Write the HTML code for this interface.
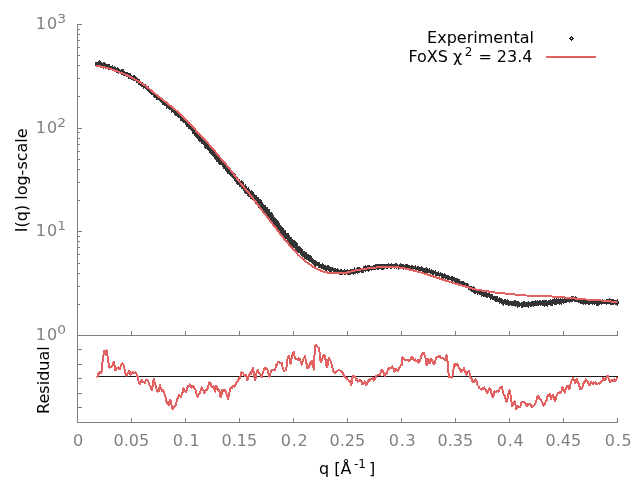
<!DOCTYPE html>
<html><head><meta charset="utf-8"><style>
html,body{margin:0;padding:0;background:#fff;}
svg{display:block;}
text{font-family:'DejaVu Sans',sans-serif;font-size:16px;}
</style></head><body>
<svg width="640" height="480" viewBox="0 0 640 480">
<rect width="640" height="480" fill="#fff"/>
<g fill="#808080" shape-rendering="crispEdges">
<rect x="77" y="24" width="1" height="399"/>
<rect x="77" y="335" width="541" height="1"/>
<rect x="77" y="422" width="541" height="1"/>
<rect x="77" y="335" width="5" height="1"/>
<rect x="77" y="231" width="5" height="1"/>
<rect x="77" y="128" width="5" height="1"/>
<rect x="77" y="24" width="5" height="1"/>
<rect x="77" y="304" width="3" height="1"/>
<rect x="77" y="286" width="3" height="1"/>
<rect x="77" y="273" width="3" height="1"/>
<rect x="77" y="263" width="3" height="1"/>
<rect x="77" y="254" width="3" height="1"/>
<rect x="77" y="247" width="3" height="1"/>
<rect x="77" y="241" width="3" height="1"/>
<rect x="77" y="236" width="3" height="1"/>
<rect x="77" y="200" width="3" height="1"/>
<rect x="77" y="182" width="3" height="1"/>
<rect x="77" y="169" width="3" height="1"/>
<rect x="77" y="159" width="3" height="1"/>
<rect x="77" y="151" width="3" height="1"/>
<rect x="77" y="144" width="3" height="1"/>
<rect x="77" y="138" width="3" height="1"/>
<rect x="77" y="132" width="3" height="1"/>
<rect x="77" y="96" width="3" height="1"/>
<rect x="77" y="78" width="3" height="1"/>
<rect x="77" y="65" width="3" height="1"/>
<rect x="77" y="55" width="3" height="1"/>
<rect x="77" y="47" width="3" height="1"/>
<rect x="77" y="40" width="3" height="1"/>
<rect x="77" y="34" width="3" height="1"/>
<rect x="77" y="29" width="3" height="1"/>
<rect x="77" y="331" width="1" height="5"/>
<rect x="77" y="418" width="1" height="5"/>
<rect x="131" y="331" width="1" height="5"/>
<rect x="131" y="418" width="1" height="5"/>
<rect x="185" y="331" width="1" height="5"/>
<rect x="185" y="418" width="1" height="5"/>
<rect x="239" y="331" width="1" height="5"/>
<rect x="239" y="418" width="1" height="5"/>
<rect x="293" y="331" width="1" height="5"/>
<rect x="293" y="418" width="1" height="5"/>
<rect x="347" y="331" width="1" height="5"/>
<rect x="347" y="418" width="1" height="5"/>
<rect x="401" y="331" width="1" height="5"/>
<rect x="401" y="418" width="1" height="5"/>
<rect x="455" y="331" width="1" height="5"/>
<rect x="455" y="418" width="1" height="5"/>
<rect x="509" y="331" width="1" height="5"/>
<rect x="509" y="418" width="1" height="5"/>
<rect x="563" y="331" width="1" height="5"/>
<rect x="563" y="418" width="1" height="5"/>
<rect x="617" y="331" width="1" height="5"/>
<rect x="617" y="418" width="1" height="5"/>
<rect x="77" y="349" width="5" height="1"/>
<rect x="77" y="364" width="5" height="1"/>
<rect x="77" y="378" width="5" height="1"/>
<rect x="77" y="393" width="5" height="1"/>
<rect x="77" y="407" width="5" height="1"/>
</g>
<g fill="#808080">
<text x="78" y="445.5" text-anchor="middle">0</text>
<text x="131.3" y="445.5" text-anchor="middle">0.05</text>
<text x="186.3" y="445.5" text-anchor="middle" textLength="27" lengthAdjust="spacing">0.1</text>
<text x="239.3" y="445.5" text-anchor="middle">0.15</text>
<text x="294.3" y="445.5" text-anchor="middle" textLength="27" lengthAdjust="spacing">0.2</text>
<text x="347.3" y="445.5" text-anchor="middle">0.25</text>
<text x="402.3" y="445.5" text-anchor="middle" textLength="27" lengthAdjust="spacing">0.3</text>
<text x="455.3" y="445.5" text-anchor="middle">0.35</text>
<text x="510.3" y="445.5" text-anchor="middle" textLength="27" lengthAdjust="spacing">0.4</text>
<text x="563.3" y="445.5" text-anchor="middle">0.45</text>
<text x="618.3" y="445.5" text-anchor="middle" textLength="27" lengthAdjust="spacing">0.5</text>

<text x="35.7" y="28.9" textLength="21.4" lengthAdjust="spacing">10</text><text x="57.2" y="22.7" style="font-size:12px" textLength="8.8" lengthAdjust="spacingAndGlyphs">3</text>
<text x="35.7" y="132.8" textLength="21.4" lengthAdjust="spacing">10</text><text x="57.2" y="126.7" style="font-size:12px" textLength="8.8" lengthAdjust="spacingAndGlyphs">2</text>
<text x="35.7" y="236.2" textLength="21.4" lengthAdjust="spacing">10</text><text x="57.2" y="229.9" style="font-size:12px" textLength="8.8" lengthAdjust="spacingAndGlyphs">1</text>
<text x="35.7" y="339.9" textLength="21.4" lengthAdjust="spacing">10</text><text x="57.2" y="334" style="font-size:12px" textLength="8.8" lengthAdjust="spacingAndGlyphs">0</text>
</g>
<g fill="#000">
<text transform="translate(27,180.3) rotate(-90)" text-anchor="middle">I(q) log-scale</text>
<text transform="translate(49,380.1) rotate(-90)" text-anchor="middle">Residual</text>
<text x="319" y="474">q [Å</text><text x="354" y="467.5" style="font-size:12px">-1</text><text x="369" y="474">]</text>
<text x="427" y="43" textLength="107" lengthAdjust="spacing">Experimental</text>
<text x="408.4" y="62">FoXS χ</text><text x="464.7" y="56" style="font-size:12px">2</text><text x="532.5" y="62" text-anchor="end">= 23.4</text>
</g>
<path d="M571,36h1v1h1v1h1v1h-1v1h-1v1h-1v-1h-1v-1h-1v-1h1v-1h1z M571,38v1h1v-1z" fill="#1e1e1e" fill-rule="evenodd" shape-rendering="crispEdges"/>
<rect x="546" y="56" width="50" height="2" fill="#e26261"/>
<path d="M95.2,64.4 L95.5,61.8 L96.5,62.4 L97.5,61.7 L98.5,60.8 L99.5,60.1 L100.5,60.9 L101.5,61.7 L102.5,62.5 L103.5,62.2 L104.5,62.1 L105.5,63 L106.5,64 L107.5,63.7 L108.5,64.2 L109.5,64.3 L110.5,65.5 L111.5,65.7 L112.5,65.2 L113.5,66.7 L114.5,66.4 L115.5,67 L116.5,68 L117.5,67.3 L118.5,68 L119.5,68.7 L120.5,69.9 L121.5,69.3 L122.5,69.2 L123.5,69.4 L124.5,71.1 L125.5,71.8 L126.5,72 L127.5,72.3 L128.5,73.3 L129.5,73.2 L130.5,73 L131.5,74.6 L132.5,75.5 L133.5,75.3 L134.5,75.3 L135.5,76.2 L136.5,76.7 L137.5,77.6 L138.5,78.8 L139.5,79 L140.5,80.6 L141.5,81.9 L142.5,81.7 L143.5,82.6 L144.5,84.6 L145.5,84 L146.5,84.9 L147.5,86.3 L148.5,86.1 L149.5,87.7 L150.5,89.6 L151.5,89.7 L152.5,91 L153.5,92.3 L154.5,93.2 L155.5,93.2 L156.5,93.6 L157.5,94.3 L158.5,95.4 L159.5,96.5 L160.5,96.7 L161.5,97.7 L162.5,98.4 L163.5,100.3 L164.5,100.4 L165.5,101.4 L166.5,103.1 L167.5,103.3 L168.5,103.4 L169.5,104.7 L170.5,106.4 L171.5,105.8 L172.5,107.6 L173.5,108.4 L174.5,109.2 L175.5,110.7 L176.5,110.4 L177.5,111.1 L178.5,112.6 L179.5,113.1 L180.5,114.9 L181.5,115.8 L182.5,116.7 L183.5,116.6 L184.5,117.8 L185.5,118.2 L186.5,119.7 L187.5,122 L188.5,123 L189.5,124.2 L190.5,124 L191.5,125.1 L192.5,127.1 L193.5,128.6 L194.5,129.2 L195.5,129 L196.5,131.8 L197.5,132.8 L198.5,133 L199.5,134.4 L200.5,136.6 L201.5,136.7 L202.5,138.3 L203.5,138.3 L204.5,140.9 L205.5,140.7 L206.5,143.2 L207.5,143.2 L208.5,143.9 L209.5,146.4 L210.5,146.7 L211.5,147.7 L212.5,149.5 L213.5,149.6 L214.5,150.7 L215.5,152 L216.5,153 L217.5,154.5 L218.5,156.1 L219.5,156.9 L220.5,158.2 L221.5,159.4 L222.5,160.3 L223.5,160.5 L224.5,161.8 L225.5,163.8 L226.5,164.1 L227.5,165.6 L228.5,166.4 L229.5,167.7 L230.5,169.5 L231.5,170.1 L232.5,171.8 L233.5,172.3 L234.5,173.3 L235.5,174.3 L236.5,175.5 L237.5,177 L238.5,178.6 L239.5,179 L240.5,180.7 L241.5,180.4 L242.5,181.3 L243.5,182.3 L244.5,184.6 L245.5,184.4 L246.5,186.3 L247.5,187.6 L248.5,187.3 L249.5,188.6 L250.5,190.6 L251.5,190.1 L252.5,191.4 L253.5,191.7 L254.5,193.9 L255.5,194.8 L256.5,194.9 L257.5,197 L258.5,197.1 L259.5,199.4 L260.5,199.2 L261.5,200.2 L262.5,202 L263.5,203.5 L264.5,205.1 L265.5,204.9 L266.5,206.7 L267.5,206.9 L268.5,209 L269.5,209.1 L270.5,211.5 L271.5,211.8 L272.5,213.2 L273.5,215.2 L274.5,216.7 L275.5,217.5 L276.5,219.2 L277.5,219.7 L278.5,220.9 L279.5,222.7 L280.5,224.8 L281.5,225.6 L282.5,226.6 L283.5,227.7 L284.5,229.8 L285.5,230 L286.5,232.6 L287.5,233 L288.5,233.5 L289.5,234.8 L290.5,236.7 L291.5,237.4 L292.5,239.3 L293.5,239.8 L294.5,240.3 L295.5,241.3 L296.5,242.3 L297.5,243.2 L298.5,245.9 L299.5,245.9 L300.5,246.9 L301.5,247.7 L302.5,248.8 L303.5,251 L304.5,250.7 L305.5,251.7 L306.5,252.1 L307.5,253.8 L308.5,254.1 L309.5,254.5 L310.5,255.5 L311.5,256.2 L312.5,257.5 L313.5,258.8 L314.5,259.8 L315.5,260.3 L316.5,260.5 L317.5,262.2 L318.5,262.3 L319.5,261.6 L320.5,263.6 L321.5,263.7 L322.5,263.1 L323.5,264.2 L324.5,265.1 L325.5,265.1 L326.5,265.6 L327.5,265 L328.5,265.2 L329.5,265.5 L330.5,266.6 L331.5,267 L332.5,267 L333.5,267.9 L334.5,267.6 L335.5,268.2 L336.5,268.7 L337.5,267.8 L338.5,269.3 L339.5,269.6 L340.5,269.3 L341.5,269.4 L342.5,270 L343.5,269.9 L344.5,269 L345.5,270.1 L346.5,269.7 L347.5,268.7 L348.5,269.6 L349.5,269.5 L350.5,269 L351.5,268.7 L352.5,269.2 L353.5,269.1 L354.5,267.3 L355.5,268.5 L356.5,267.8 L357.5,267.2 L358.5,267.1 L359.5,266.8 L360.5,268.2 L361.5,267.8 L362.5,267.7 L363.5,266.3 L364.5,266.5 L365.5,265.4 L366.5,266 L367.5,265.2 L368.5,265.4 L369.5,264.6 L370.5,265.9 L371.5,265.9 L372.5,265.7 L373.5,264.6 L374.5,265.5 L375.5,264.2 L376.5,263.9 L377.5,263.5 L378.5,263.7 L379.5,263.5 L380.5,263.9 L381.5,263.5 L382.5,264.4 L383.5,263.9 L384.5,264.4 L385.5,263.9 L386.5,263.9 L387.5,264 L388.5,263.1 L389.5,264.3 L390.5,263.5 L391.5,263.2 L392.5,264.4 L393.5,263.8 L394.5,263.7 L395.5,263 L396.5,263.1 L397.5,263.6 L398.5,264.5 L399.5,263.7 L400.5,263.3 L401.5,263.6 L402.5,263.5 L403.5,264.1 L404.5,264.5 L405.5,264 L406.5,264 L407.5,263.6 L408.5,265.4 L409.5,264.7 L410.5,265.5 L411.5,264.6 L412.5,265 L413.5,266.1 L414.5,266.1 L415.5,264.8 L416.5,266.5 L417.5,266.2 L418.5,266 L419.5,267 L420.5,267.5 L421.5,266.1 L422.5,267.1 L423.5,268.1 L424.5,267.7 L425.5,267.7 L426.5,267.2 L427.5,267.8 L428.5,268.9 L429.5,268.2 L430.5,269.5 L431.5,268.8 L432.5,269.9 L433.5,269.9 L434.5,270.6 L435.5,270.4 L436.5,271.9 L437.5,272.1 L438.5,271.3 L439.5,272.9 L440.5,272.1 L441.5,272.8 L442.5,273 L443.5,273.8 L444.5,273.3 L445.5,273.9 L446.5,274.8 L447.5,275.4 L448.5,275.2 L449.5,276.4 L450.5,276.5 L451.5,275.8 L452.5,276.3 L453.5,277.1 L454.5,277 L455.5,278.2 L456.5,277.7 L457.5,278.2 L458.5,278.5 L459.5,278.7 L460.5,280.6 L461.5,280.7 L462.5,281.4 L463.5,280.6 L464.5,282.2 L465.5,282.6 L466.5,282.7 L467.5,283 L468.5,283.8 L469.5,285.6 L470.5,286.2 L471.5,285.7 L472.5,287.1 L473.5,286.3 L474.5,287.4 L475.5,287.6 L476.5,289.4 L477.5,288.9 L478.5,289.9 L479.5,289 L480.5,290.9 L481.5,291 L482.5,290.6 L483.5,292 L484.5,291 L485.5,291.4 L486.5,291.1 L487.5,293 L488.5,293.3 L489.5,292.4 L490.5,294.1 L491.5,293.5 L492.5,294.1 L493.5,295.5 L494.5,295.8 L495.5,296.3 L496.5,296.4 L497.5,296.4 L498.5,297.7 L499.5,297.2 L500.5,297.8 L501.5,297.9 L502.5,298.7 L503.5,299.9 L504.5,298.9 L505.5,298.8 L506.5,300 L507.5,299.3 L508.5,300.2 L509.5,300.5 L510.5,300.5 L511.5,301 L512.5,300.7 L513.5,301.1 L514.5,300.4 L515.5,300.4 L516.5,301.3 L517.5,301.1 L518.5,301.4 L519.5,302.1 L520.5,302.5 L521.5,301.6 L522.5,302.2 L523.5,300.8 L524.5,300.9 L525.5,302.4 L526.5,302.3 L527.5,302.2 L528.5,301.1 L529.5,302.3 L530.5,301.6 L531.5,300.9 L532.5,300.7 L533.5,300.8 L534.5,301.4 L535.5,300.1 L536.5,301.2 L537.5,300.4 L538.5,301.1 L539.5,299.6 L540.5,300.2 L541.5,300.7 L542.5,299.9 L543.5,300.4 L544.5,300.3 L545.5,300.2 L546.5,300.2 L547.5,300.9 L548.5,299.9 L549.5,300.4 L550.5,298.9 L551.5,299.5 L552.5,299.4 L553.5,299.3 L554.5,298.4 L555.5,299.3 L556.5,298.2 L557.5,298.6 L558.5,298 L559.5,298.6 L560.5,297.7 L561.5,298.8 L562.5,297.6 L563.5,298.8 L564.5,297.9 L565.5,298.5 L566.5,298.3 L567.5,297.9 L568.5,297.7 L569.5,296.8 L570.5,297.4 L571.5,296.1 L572.5,296.4 L573.5,295.5 L574.5,296.7 L575.5,295.8 L576.5,297.4 L577.5,297.9 L578.5,297.8 L579.5,298.1 L580.5,298.1 L581.5,298.4 L582.5,298.8 L583.5,298.3 L584.5,299.3 L585.5,299.9 L586.5,299.4 L587.5,299.5 L588.5,298.9 L589.5,298.9 L590.5,299.7 L591.5,299.9 L592.5,300.1 L593.5,299.8 L594.5,299.8 L595.5,300.6 L596.5,300.4 L597.5,300.1 L598.5,299.1 L599.5,299.5 L600.5,300.2 L601.5,299.9 L602.5,298.5 L603.5,299.7 L604.5,299.9 L605.5,299.7 L606.5,299.1 L607.5,298.5 L608.5,299 L609.5,298.2 L610.5,298.5 L611.5,299.5 L612.5,298.7 L613.5,298.7 L614.5,299.8 L615.5,300.3 L616.5,299.8 L617.5,299 L619.6,302.3 L617.5,305.6 L616.5,305.4 L615.5,304.7 L614.5,304.3 L613.5,304.5 L612.5,304.9 L611.5,305 L610.5,305 L609.5,303.5 L608.5,303.7 L607.5,303.7 L606.5,304.9 L605.5,303.6 L604.5,303.9 L603.5,303.8 L602.5,304.2 L601.5,305.3 L600.5,304 L599.5,305.5 L598.5,305.7 L597.5,305.5 L596.5,305.9 L595.5,304.4 L594.5,304.8 L593.5,304.2 L592.5,305.5 L591.5,304.2 L590.5,304.1 L589.5,304.8 L588.5,304.7 L587.5,304.1 L586.5,304.2 L585.5,305.2 L584.5,304.2 L583.5,304.7 L582.5,304.1 L581.5,304.2 L580.5,303.7 L579.5,302.9 L578.5,303 L577.5,302 L576.5,301.5 L575.5,302.1 L574.5,302.4 L573.5,301.2 L572.5,301.6 L571.5,301.8 L570.5,301.6 L569.5,303 L568.5,302.1 L567.5,302.2 L566.5,303.2 L565.5,303 L564.5,302.6 L563.5,304.4 L562.5,303 L561.5,304.6 L560.5,303.9 L559.5,304.8 L558.5,303.8 L557.5,304.3 L556.5,304.7 L555.5,305.3 L554.5,304.8 L553.5,304.3 L552.5,305.7 L551.5,305.8 L550.5,306 L549.5,304.9 L548.5,305.1 L547.5,306.7 L546.5,305.8 L545.5,306.2 L544.5,307 L543.5,305.7 L542.5,306.4 L541.5,305.2 L540.5,306 L539.5,305.2 L538.5,306.1 L537.5,305.7 L536.5,305.8 L535.5,306.2 L534.5,306.1 L533.5,306.9 L532.5,306.3 L531.5,306.7 L530.5,307.2 L529.5,306.3 L528.5,307.5 L527.5,307 L526.5,306.8 L525.5,307.2 L524.5,306.5 L523.5,306.7 L522.5,307.9 L521.5,307.7 L520.5,306.4 L519.5,307.4 L518.5,306.5 L517.5,307.7 L516.5,306.4 L515.5,307.2 L514.5,305.9 L513.5,305.7 L512.5,305.8 L511.5,305.5 L510.5,305.1 L509.5,306.2 L508.5,305.8 L507.5,305.2 L506.5,305.1 L505.5,305 L504.5,304.1 L503.5,305.6 L502.5,305.4 L501.5,304.3 L500.5,303 L499.5,303.7 L498.5,302 L497.5,302 L496.5,301.5 L495.5,301.8 L494.5,301.2 L493.5,299.8 L492.5,299.8 L491.5,298.9 L490.5,299.6 L489.5,298.4 L488.5,297.3 L487.5,298.1 L486.5,298 L485.5,296.9 L484.5,297.4 L483.5,296.9 L482.5,296.1 L481.5,296.8 L480.5,295.3 L479.5,294.6 L478.5,294.2 L477.5,295.2 L476.5,293.4 L475.5,293.6 L474.5,294 L473.5,292.7 L472.5,292.1 L471.5,292.2 L470.5,290.6 L469.5,289.8 L468.5,289.5 L467.5,288.2 L466.5,288.1 L465.5,287.5 L464.5,286.2 L463.5,287.1 L462.5,285.3 L461.5,286.1 L460.5,285.4 L459.5,284.1 L458.5,283.1 L457.5,284.4 L456.5,282.9 L455.5,283.5 L454.5,282.2 L453.5,281.4 L452.5,282.3 L451.5,281.6 L450.5,280.2 L449.5,280 L448.5,279.5 L447.5,280.1 L446.5,278.8 L445.5,278.9 L444.5,277.8 L443.5,279.1 L442.5,277.5 L441.5,277.9 L440.5,276.4 L439.5,277.3 L438.5,276.1 L437.5,276.2 L436.5,276.2 L435.5,275.5 L434.5,274.4 L433.5,274.5 L432.5,274.8 L431.5,273.6 L430.5,274.4 L429.5,273.3 L428.5,273.1 L427.5,273.9 L426.5,273.3 L425.5,272.6 L424.5,272.8 L423.5,272.5 L422.5,272.2 L421.5,271 L420.5,271 L419.5,271.8 L418.5,271.8 L417.5,269.9 L416.5,270.5 L415.5,270.8 L414.5,269.4 L413.5,270.7 L412.5,269.8 L411.5,269.3 L410.5,269.1 L409.5,269.7 L408.5,268.6 L407.5,268.8 L406.5,268.8 L405.5,269.1 L404.5,268.8 L403.5,269.6 L402.5,268.5 L401.5,268.1 L400.5,268.1 L399.5,268.2 L398.5,269.7 L397.5,268.3 L396.5,269.5 L395.5,268.1 L394.5,268.6 L393.5,268.4 L392.5,268.3 L391.5,269.2 L390.5,268.5 L389.5,268.1 L388.5,267.9 L387.5,269 L386.5,268.7 L385.5,268 L384.5,268.9 L383.5,269.7 L382.5,269.5 L381.5,269.9 L380.5,268.6 L379.5,268.8 L378.5,270.2 L377.5,270.1 L376.5,268.8 L375.5,269.7 L374.5,270.1 L373.5,270 L372.5,270 L371.5,270.9 L370.5,270 L369.5,271.3 L368.5,271.7 L367.5,271 L366.5,271.1 L365.5,271.7 L364.5,271.1 L363.5,272.9 L362.5,272.8 L361.5,272.7 L360.5,272.2 L359.5,273 L358.5,273.3 L357.5,274 L356.5,272.9 L355.5,274.4 L354.5,273.6 L353.5,274.7 L352.5,273.6 L351.5,273.7 L350.5,274.6 L349.5,274.5 L348.5,275.3 L347.5,274.7 L346.5,274.3 L345.5,274.9 L344.5,274.7 L343.5,274.3 L342.5,275.2 L341.5,275.2 L340.5,274.5 L339.5,275.4 L338.5,273.7 L337.5,273.5 L336.5,273.1 L335.5,272.5 L334.5,273 L333.5,273 L332.5,271.4 L331.5,272.4 L330.5,272 L329.5,272 L328.5,270.9 L327.5,269.9 L326.5,270.8 L325.5,270.9 L324.5,270.4 L323.5,270.1 L322.5,269.1 L321.5,269.2 L320.5,268.4 L319.5,268.4 L318.5,267.6 L317.5,266.3 L316.5,266.1 L315.5,266.6 L314.5,265.5 L313.5,264.7 L312.5,263.6 L311.5,262.5 L310.5,262.5 L309.5,261.5 L308.5,261.2 L307.5,260.5 L306.5,259.5 L305.5,258.7 L304.5,259 L303.5,257.4 L302.5,257.3 L301.5,255.5 L300.5,254.6 L299.5,253.4 L298.5,253.4 L297.5,252.8 L296.5,250.5 L295.5,250.1 L294.5,248.2 L293.5,247.7 L292.5,247.2 L291.5,246.6 L290.5,245.9 L289.5,244 L288.5,243.4 L287.5,241 L286.5,239.1 L285.5,238.8 L284.5,237.9 L283.5,235.9 L282.5,234.8 L281.5,233.9 L280.5,232.9 L279.5,231.6 L278.5,230.2 L277.5,228.8 L276.5,227.6 L275.5,226.1 L274.5,226.3 L273.5,224 L272.5,223.7 L271.5,222.4 L270.5,220.9 L269.5,219.9 L268.5,217.7 L267.5,215.9 L266.5,216 L265.5,215.3 L264.5,213 L263.5,213.1 L262.5,210.9 L261.5,211.1 L260.5,208.9 L259.5,208.9 L258.5,207.8 L257.5,205.9 L256.5,204.5 L255.5,203.6 L254.5,201.8 L253.5,201.3 L252.5,200 L251.5,199 L250.5,198.8 L249.5,197.2 L248.5,197 L247.5,196 L246.5,193.5 L245.5,193.5 L244.5,192.7 L243.5,191.2 L242.5,189.3 L241.5,188.5 L240.5,186.8 L239.5,187.2 L238.5,184.8 L237.5,184.7 L236.5,183.6 L235.5,181.6 L234.5,180.6 L233.5,179.2 L232.5,178 L231.5,177.4 L230.5,175.9 L229.5,174.5 L228.5,174.3 L227.5,173.8 L226.5,171.9 L225.5,170.7 L224.5,169.4 L223.5,168.8 L222.5,166.7 L221.5,165.4 L220.5,165.4 L219.5,165 L218.5,163.9 L217.5,162 L216.5,161.6 L215.5,159.5 L214.5,158.6 L213.5,156.8 L212.5,155.5 L211.5,155.4 L210.5,154.4 L209.5,152.7 L208.5,150.5 L207.5,150.3 L206.5,149.4 L205.5,148.6 L204.5,147.5 L203.5,145.2 L202.5,144 L201.5,144.2 L200.5,142.1 L199.5,141.8 L198.5,140.7 L197.5,139 L196.5,138.4 L195.5,136.9 L194.5,135.6 L193.5,134 L192.5,133.7 L191.5,131.4 L190.5,130.3 L189.5,129.4 L188.5,129.3 L187.5,127.2 L186.5,126.5 L185.5,124.6 L184.5,123 L183.5,122.7 L182.5,122.1 L181.5,121.2 L180.5,120.6 L179.5,118.3 L178.5,118.4 L177.5,117.4 L176.5,115.8 L175.5,115.6 L174.5,115.2 L173.5,112.7 L172.5,112 L171.5,112.7 L170.5,110.4 L169.5,109.7 L168.5,108.6 L167.5,108.4 L166.5,108.5 L165.5,106.1 L164.5,105.7 L163.5,104.5 L162.5,105 L161.5,103.3 L160.5,102.1 L159.5,101.1 L158.5,100.5 L157.5,99.5 L156.5,99.7 L155.5,98.4 L154.5,98.2 L153.5,97.3 L152.5,95 L151.5,95.1 L150.5,94.3 L149.5,93.2 L148.5,92 L147.5,90.8 L146.5,90.3 L145.5,89 L144.5,88 L143.5,88.5 L142.5,86.8 L141.5,86.8 L140.5,86.1 L139.5,84.6 L138.5,84.6 L137.5,82.7 L136.5,83 L135.5,81.1 L134.5,81.1 L133.5,80.9 L132.5,79.6 L131.5,80.4 L130.5,79.3 L129.5,78.7 L128.5,78.6 L127.5,77.2 L126.5,76.9 L125.5,75.9 L124.5,75.8 L123.5,75.5 L122.5,74.7 L121.5,74.8 L120.5,73.2 L119.5,73.2 L118.5,73.6 L117.5,72.6 L116.5,72.6 L115.5,71.6 L114.5,71.8 L113.5,71.1 L112.5,70.3 L111.5,69.7 L110.5,69.9 L109.5,69.9 L108.5,70 L107.5,68.4 L106.5,68.4 L105.5,67.7 L104.5,68.1 L103.5,68.9 L102.5,67.3 L101.5,68.2 L100.5,66.7 L99.5,67.1 L98.5,67.1 L97.5,66.7 L96.5,66 L95.5,66.1Z" fill="#333" shape-rendering="crispEdges"/>
<path d="M95.9,65.9 L97.4,66 L98.9,66.3 L100.4,66.5 L101.9,66.8 L103.4,67.1 L104.9,67.4 L106.4,67.8 L107.9,68.2 L109.4,68.6 L110.9,69.1 L112.4,69.7 L113.9,70.2 L115.4,70.8 L116.9,71.2 L118.4,71.6 L119.9,72.4 L121.4,73 L122.9,73.5 L124.4,74.1 L125.9,74.8 L127.4,75.5 L128.9,76.2 L130.4,77 L131.9,77.8 L133.4,78.6 L134.9,79.4 L136.4,80.2 L137.9,81.1 L139.4,82 L140.9,82.9 L142.4,83.8 L143.9,84.8 L145.4,85.9 L146.9,87 L148.4,88.1 L149.9,89.3 L151.4,90.6 L152.9,91.8 L154.4,93.1 L155.9,94.3 L157.4,95.5 L158.9,96.7 L160.4,97.9 L161.9,99.1 L163.4,100.2 L164.9,101.4 L166.4,102.6 L167.9,103.8 L169.4,105 L170.9,106.2 L172.4,107.5 L173.9,108.7 L175.4,109.9 L176.9,111.2 L178.4,112.5 L179.9,113.8 L181.4,115.2 L182.9,116.6 L184.4,118.1 L185.9,119.7 L187.4,121.4 L188.9,123 L190.4,124.7 L191.9,126.3 L193.4,127.8 L194.9,129.2 L196.4,131.1 L197.9,132.7 L199.4,134.3 L200.9,135.8 L202.4,137.3 L203.9,138.9 L205.4,140.6 L206.9,142.2 L208.4,143.8 L209.9,145.5 L211.4,147.2 L212.9,148.9 L214.4,150.7 L215.9,152.5 L217.4,154.3 L218.9,156.2 L220.4,158 L221.9,159.7 L223.4,161.3 L224.9,163 L226.4,164.9 L227.9,166.9 L229.4,168.7 L230.9,170.5 L232.4,172.4 L233.9,174.4 L235.4,176.4 L236.9,178.4 L238.4,180.4 L239.9,182.4 L241.4,184.2 L242.9,186 L244.4,187.8 L245.9,189.7 L247.4,191.5 L248.9,193.3 L250.4,195.1 L251.9,196.8 L253.4,198.8 L254.9,200.8 L256.4,202.7 L257.9,204.7 L259.4,206.7 L260.9,208.7 L262.4,210.9 L263.9,212.7 L265.4,214.6 L266.9,216.5 L268.4,218.5 L269.9,220.5 L271.4,222.5 L272.9,224.5 L274.4,226.4 L275.9,228.3 L277.4,230.3 L278.9,232.2 L280.4,234.2 L281.9,236.1 L283.4,237.9 L284.9,239.7 L286.4,241.4 L287.9,243.1 L289.4,245.1 L290.9,246.9 L292.4,248.6 L293.9,250.2 L295.4,251.7 L296.9,253.3 L298.4,255 L299.9,256.4 L301.4,257.8 L302.9,259.1 L304.4,260.4 L305.9,261.6 L307.4,262.7 L308.9,263.9 L310.4,264.9 L311.9,266 L313.4,267 L314.9,267.8 L316.4,268.7 L317.9,269.5 L319.4,270.1 L320.9,270.7 L322.4,271.2 L323.9,271.7 L325.4,272.1 L326.9,272.4 L328.4,272.7 L329.9,272.9 L331.4,273 L332.9,273.1 L334.4,273.2 L335.9,273.2 L337.4,273.2 L338.9,273.2 L340.4,273.2 L341.9,273.1 L343.4,273.1 L344.9,273 L346.4,272.8 L347.9,272.4 L349.4,272 L350.9,271.6 L352.4,271.2 L353.9,270.8 L355.4,270.5 L356.9,270.2 L358.4,270 L359.9,269.7 L361.4,269.5 L362.9,269.3 L364.4,269 L365.9,268.8 L367.4,268.5 L368.9,268.4 L370.4,268.2 L371.9,268 L373.4,267.8 L374.9,267.7 L376.4,267.5 L377.9,267.4 L379.4,267.3 L380.9,267.2 L382.4,267.2 L383.9,267.1 L385.4,267.1 L386.9,267.2 L388.4,267.2 L389.9,267.2 L391.4,267.2 L392.9,267.3 L394.4,267.3 L395.9,267.3 L397.4,267.4 L398.9,267.5 L400.4,267.7 L401.9,268 L403.4,268.2 L404.9,268.5 L406.4,268.8 L407.9,269.2 L409.4,269.5 L410.9,269.9 L412.4,270.2 L413.9,270.6 L415.4,271 L416.9,271.4 L418.4,271.8 L419.9,272.2 L421.4,272.7 L422.9,273.1 L424.4,273.6 L425.9,274 L427.4,274.5 L428.9,275 L430.4,275.5 L431.9,276 L433.4,276.5 L434.9,277 L436.4,277.5 L437.9,278 L439.4,278.5 L440.9,279 L442.4,279.5 L443.9,280 L445.4,280.5 L446.9,280.9 L448.4,281.4 L449.9,281.9 L451.4,282.3 L452.9,282.8 L454.4,283.2 L455.9,283.7 L457.4,284.1 L458.9,284.6 L460.4,285 L461.9,285.4 L463.4,285.9 L464.9,286.3 L466.4,286.8 L467.9,287.3 L469.4,287.7 L470.9,288.2 L472.4,288.6 L473.9,289 L475.4,289.3 L476.9,289.7 L478.4,290 L479.9,290.2 L481.4,290.4 L482.9,290.7 L484.4,290.9 L485.9,291.1 L487.4,291.3 L488.9,291.6 L490.4,291.8 L491.9,292.1 L493.4,292.3 L494.9,292.5 L496.4,292.7 L497.9,292.8 L499.4,293 L500.9,293.1 L502.4,293.3 L503.9,293.4 L505.4,293.5 L506.9,293.7 L508.4,293.8 L509.9,294 L511.4,294.2 L512.9,294.3 L514.4,294.5 L515.9,294.6 L517.4,294.8 L518.9,294.9 L520.4,295 L521.9,295.2 L523.4,295.3 L524.9,295.4 L526.4,295.5 L527.9,295.6 L529.4,295.7 L530.9,295.8 L532.4,295.9 L533.9,296 L535.4,296 L536.9,296 L538.4,296.1 L539.9,296.1 L541.4,296.1 L542.9,296.2 L544.4,296.2 L545.9,296.2 L547.4,296.3 L548.9,296.3 L550.4,296.4 L551.9,296.5 L553.4,296.6 L554.9,296.7 L556.4,296.8 L557.9,296.9 L559.4,297 L560.9,297.1 L562.4,297.3 L563.9,297.4 L565.4,297.5 L566.9,297.7 L568.4,297.8 L569.9,298 L571.4,298.1 L572.9,298.3 L574.4,298.5 L575.9,298.6 L577.4,298.7 L578.9,298.9 L580.4,299 L581.9,299.1 L583.4,299.2 L584.9,299.4 L586.4,299.5 L587.9,299.6 L589.4,299.7 L590.9,299.8 L592.4,299.9 L593.9,300 L595.4,300.1 L596.9,300.2 L598.4,300.3 L599.9,300.4 L601.4,300.5 L602.9,300.6 L604.4,300.8 L605.9,300.9 L607.4,301.1 L608.9,301.2 L610.4,301.4 L611.9,301.6 L613.4,301.7 L614.9,301.8 L616.4,301.9 L617.5,302" fill="none" stroke="#e26261" stroke-width="2" stroke-linejoin="round" shape-rendering="crispEdges"/>
<rect x="97" y="376" width="521" height="1" fill="#1a1a1a"/>
<path d="M96.9,377.5 L97.7,375.9 L98.5,373.4 L99.3,373.6 L100.1,371.7 L100.9,373.1 L101.7,371.6 L102.5,362.1 L103.3,356.8 L104.1,350.7 L104.9,352.2 L105.7,355.2 L106.5,350.4 L107.3,354.3 L108.1,359.9 L108.9,366.6 L109.7,367.7 L110.5,366.8 L111.3,367.2 L112.1,366 L112.9,363.6 L113.7,362 L114.5,365.5 L115.3,370.2 L116.1,369.8 L116.9,367.9 L117.7,367.7 L118.5,367.3 L119.3,369.1 L120.1,369 L120.9,365.7 L121.7,364 L122.5,363.2 L123.3,364.1 L124.1,367.8 L124.9,370.5 L125.7,374.4 L126.5,376 L127.3,373.4 L128.1,372.9 L128.9,371.4 L129.7,371.5 L130.5,374.6 L131.3,373.7 L132.1,372.9 L132.9,372.2 L133.7,373 L134.5,373 L135.3,372.2 L136.1,372.6 L136.9,374.9 L137.7,376.8 L138.5,380.9 L139.3,383.1 L140.1,384.2 L140.9,381.3 L141.7,379.8 L142.5,382 L143.3,382.4 L144.1,382.1 L144.9,383.4 L145.7,380 L146.5,380.1 L147.3,380 L148.1,381.3 L148.9,382.5 L149.7,386.1 L150.5,385.8 L151.3,388.9 L152.1,390 L152.9,383.3 L153.7,378.9 L154.5,382.2 L155.3,384.5 L156.1,387.5 L156.9,390.6 L157.7,391.6 L158.5,391.5 L159.3,388.1 L160.1,384.7 L160.9,388.7 L161.7,390.3 L162.5,391.2 L163.3,390.1 L164.1,393.1 L164.9,395.1 L165.7,397.6 L166.5,401.5 L167.3,403.3 L168.1,404.6 L168.9,404.9 L169.7,400 L170.5,399.7 L171.3,403.9 L172.1,408.3 L172.9,409 L173.7,407.5 L174.5,405.8 L175.3,406.3 L176.1,404.5 L176.9,399.2 L177.7,398.2 L178.5,395.7 L179.3,394.7 L180.1,396 L180.9,397.3 L181.7,393.8 L182.5,392.6 L183.3,388.3 L184.1,389.8 L184.9,390.5 L185.7,392.2 L186.5,390.4 L187.3,388.1 L188.1,385.9 L188.9,386.1 L189.7,384.4 L190.5,385.2 L191.3,387.9 L192.1,386.4 L192.9,385.7 L193.7,386.6 L194.5,389 L195.3,389.3 L196.1,392.5 L196.9,394.8 L197.7,396.9 L198.5,394.6 L199.3,394.1 L200.1,392.4 L200.9,389.6 L201.7,387.3 L202.5,389.2 L203.3,389.5 L204.1,393.5 L204.9,391.6 L205.7,390.3 L206.5,389.5 L207.3,390 L208.1,386.3 L208.9,383.5 L209.7,382.3 L210.5,383.6 L211.3,386.5 L212.1,387.1 L212.9,386.7 L213.7,386.3 L214.5,389.4 L215.3,391.9 L216.1,385.7 L216.9,387.1 L217.7,388.7 L218.5,390.5 L219.3,389.9 L220.1,395.5 L220.9,397 L221.7,394.4 L222.5,389.6 L223.3,390.6 L224.1,391.2 L224.9,390.2 L225.7,391.3 L226.5,394 L227.3,396.3 L228.1,399.6 L228.9,395.4 L229.7,390.8 L230.5,388.4 L231.3,387.4 L232.1,388.1 L232.9,385.7 L233.7,386.2 L234.5,387 L235.3,385.2 L236.1,383 L236.9,381.6 L237.7,381.5 L238.5,379.4 L239.3,378.1 L240.1,378.3 L240.9,374.2 L241.7,372.2 L242.5,372.7 L243.3,373.7 L244.1,375.6 L244.9,374.5 L245.7,374.8 L246.5,376.6 L247.3,380.4 L248.1,378.5 L248.9,374.8 L249.7,374.6 L250.5,372.3 L251.3,373.8 L252.1,370.2 L252.9,367.9 L253.7,371.7 L254.5,378.2 L255.3,380.5 L256.1,374.4 L256.9,372.1 L257.7,369.8 L258.5,372.5 L259.3,372.7 L260.1,374.6 L260.9,375.2 L261.7,377.5 L262.5,373.8 L263.3,372.4 L264.1,368.7 L264.9,368.2 L265.7,369.1 L266.5,368.3 L267.3,368.6 L268.1,373 L268.9,374.5 L269.7,376.9 L270.5,373.2 L271.3,370.2 L272.1,370.1 L272.9,369.7 L273.7,370.1 L274.5,370.1 L275.3,369.4 L276.1,365.3 L276.9,365.4 L277.7,362.1 L278.5,361.5 L279.3,361.5 L280.1,363.5 L280.9,362.7 L281.7,362.7 L282.5,367 L283.3,369.1 L284.1,371.4 L284.9,370.5 L285.7,370.1 L286.5,367.2 L287.3,359.7 L288.1,356.7 L288.9,356.1 L289.7,359.7 L290.5,363.6 L291.3,359.4 L292.1,356.4 L292.9,353 L293.7,351.9 L294.5,355.9 L295.3,358.9 L296.1,358.8 L296.9,359.4 L297.7,360.2 L298.5,358.2 L299.3,358.5 L300.1,359.6 L300.9,362.5 L301.7,364.7 L302.5,361.8 L303.3,359.7 L304.1,357.8 L304.9,355.9 L305.7,360 L306.5,363.5 L307.3,368.3 L308.1,367.6 L308.9,367.6 L309.7,365 L310.5,362.2 L311.3,363.8 L312.1,361 L312.9,363.6 L313.7,369.6 L314.5,354.8 L315.3,345.2 L316.1,345.2 L316.9,345.4 L317.7,347.5 L318.5,347.7 L319.3,349.5 L320.1,358.6 L320.9,362.5 L321.7,360.2 L322.5,358.1 L323.3,355.5 L324.1,355.2 L324.9,355.8 L325.7,360.7 L326.5,365.9 L327.3,367.3 L328.1,361.1 L328.9,357.8 L329.7,360.2 L330.5,360.9 L331.3,363.4 L332.1,367 L332.9,369.4 L333.7,372.1 L334.5,373 L335.3,372.8 L336.1,371.9 L336.9,371.1 L337.7,370.9 L338.5,369.9 L339.3,370.2 L340.1,370.5 L340.9,370.9 L341.7,372.5 L342.5,372 L343.3,374 L344.1,376.1 L344.9,377.2 L345.7,377.8 L346.5,377.6 L347.3,378.9 L348.1,379.6 L348.9,380.6 L349.7,380.6 L350.5,382.8 L351.3,385.1 L352.1,379.1 L352.9,376.3 L353.7,376.4 L354.5,376.3 L355.3,377.6 L356.1,380.1 L356.9,379.1 L357.7,381.8 L358.5,380.7 L359.3,380.7 L360.1,380 L360.9,380.7 L361.7,381.4 L362.5,384.4 L363.3,383.3 L364.1,382.8 L364.9,381.3 L365.7,383.6 L366.5,385.3 L367.3,382.9 L368.1,381 L368.9,381 L369.7,378.8 L370.5,379.8 L371.3,378.7 L372.1,379.4 L372.9,377.9 L373.7,380.8 L374.5,379.7 L375.3,378.1 L376.1,375.5 L376.9,375.6 L377.7,374.9 L378.5,375.5 L379.3,375.1 L380.1,375.1 L380.9,371 L381.7,369.5 L382.5,369.7 L383.3,371.8 L384.1,374.7 L384.9,376 L385.7,374.1 L386.5,374 L387.3,371.4 L388.1,369.5 L388.9,368 L389.7,368.6 L390.5,368.2 L391.3,367.3 L392.1,366.4 L392.9,367.5 L393.7,368.7 L394.5,372.3 L395.3,369.3 L396.1,368.7 L396.9,370 L397.7,371.4 L398.5,370.3 L399.3,368 L400.1,366.9 L400.9,364.7 L401.7,365.5 L402.5,357.1 L403.3,359.4 L404.1,358.9 L404.9,360.2 L405.7,360 L406.5,360.4 L407.3,359.8 L408.1,359.5 L408.9,361.5 L409.7,360.6 L410.5,359.4 L411.3,357.8 L412.1,357.1 L412.9,358.1 L413.7,359.7 L414.5,360 L415.3,359.4 L416.1,361.1 L416.9,361.4 L417.7,360 L418.5,362.6 L419.3,362.2 L420.1,360.8 L420.9,357 L421.7,354.9 L422.5,353.8 L423.3,352.6 L424.1,353 L424.9,356.6 L425.7,358.3 L426.5,365.3 L427.3,365.4 L428.1,358.5 L428.9,360.3 L429.7,363.2 L430.5,361.4 L431.3,358.8 L432.1,360 L432.9,362.9 L433.7,364.5 L434.5,364 L435.3,360.5 L436.1,358.2 L436.9,357 L437.7,357.2 L438.5,356.5 L439.3,356.9 L440.1,355.8 L440.9,357.7 L441.7,357.7 L442.5,358.4 L443.3,357.8 L444.1,359.6 L444.9,360 L445.7,357.5 L446.5,355.4 L447.3,358.7 L448.1,369.4 L448.9,376.4 L449.7,377.4 L450.5,376.6 L451.3,377.5 L452.1,377.5 L452.9,374 L453.7,367.6 L454.5,364.3 L455.3,365.8 L456.1,364.2 L456.9,363.8 L457.7,364.1 L458.5,367 L459.3,368.1 L460.1,369.4 L460.9,371.8 L461.7,370.5 L462.5,371.2 L463.3,369.9 L464.1,368.2 L464.9,371.3 L465.7,373.1 L466.5,374.5 L467.3,371.7 L468.1,372.2 L468.9,370.6 L469.7,373.8 L470.5,378.1 L471.3,377.7 L472.1,381.1 L472.9,382.4 L473.7,381.3 L474.5,381.7 L475.3,379.4 L476.1,380.6 L476.9,382.7 L477.7,385.3 L478.5,385.8 L479.3,388.3 L480.1,388.5 L480.9,388.9 L481.7,389.6 L482.5,388.2 L483.3,389.1 L484.1,387.4 L484.9,388.5 L485.7,389.5 L486.5,391.7 L487.3,393.2 L488.1,391.2 L488.9,390.4 L489.7,388.1 L490.5,389.5 L491.3,392.5 L492.1,396.2 L492.9,396.8 L493.7,395.1 L494.5,391.2 L495.3,392.4 L496.1,392.2 L496.9,390.7 L497.7,390.5 L498.5,392.2 L499.3,389.9 L500.1,387.6 L500.9,386.7 L501.7,386.7 L502.5,390.3 L503.3,393.6 L504.1,395.5 L504.9,396.3 L505.7,399.1 L506.5,402 L507.3,400.8 L508.1,394.9 L508.9,390.6 L509.7,390.2 L510.5,395.3 L511.3,400.5 L512.1,405.9 L512.9,405 L513.7,403.8 L514.5,401.4 L515.3,403.9 L516.1,409.5 L516.9,408.3 L517.7,405.6 L518.5,406.4 L519.3,407.3 L520.1,407.4 L520.9,404.2 L521.7,402 L522.5,401.8 L523.3,401.7 L524.1,402.1 L524.9,402.8 L525.7,404.7 L526.5,403.6 L527.3,406.1 L528.1,404.3 L528.9,403.5 L529.7,404.3 L530.5,404.3 L531.3,406.8 L532.1,407.2 L532.9,406.2 L533.7,405.8 L534.5,405 L535.3,403.6 L536.1,401.5 L536.9,397.9 L537.7,396.3 L538.5,396.4 L539.3,398.8 L540.1,398.6 L540.9,399.8 L541.7,401.2 L542.5,403 L543.3,405.8 L544.1,403.4 L544.9,404.6 L545.7,401.2 L546.5,401.2 L547.3,397.3 L548.1,395 L548.9,396 L549.7,394 L550.5,397.2 L551.3,399 L552.1,396 L552.9,395.1 L553.7,396.7 L554.5,400.2 L555.3,400.9 L556.1,396.6 L556.9,395.4 L557.7,393.6 L558.5,392.6 L559.3,393.5 L560.1,391.5 L560.9,392.6 L561.7,390.6 L562.5,387.5 L563.3,388.5 L564.1,391.2 L564.9,392.6 L565.7,388.9 L566.5,387.3 L567.3,386.1 L568.1,385.5 L568.9,389.2 L569.7,388.1 L570.5,383.8 L571.3,381.4 L572.1,380.1 L572.9,377.8 L573.7,379.7 L574.5,380.7 L575.3,383.2 L576.1,380.2 L576.9,379.1 L577.7,381.5 L578.5,383.4 L579.3,385.7 L580.1,388.8 L580.9,388.8 L581.7,388 L582.5,387.1 L583.3,384.3 L584.1,381.6 L584.9,381.8 L585.7,379.4 L586.5,381.1 L587.3,381.1 L588.1,383.2 L588.9,385.4 L589.7,385.4 L590.5,383.4 L591.3,381.5 L592.1,383 L592.9,384.5 L593.7,382.5 L594.5,382.8 L595.3,382.4 L596.1,383.8 L596.9,384.3 L597.7,383.6 L598.5,383.5 L599.3,383.6 L600.1,382.8 L600.9,382 L601.7,381.4 L602.5,380.4 L603.3,378 L604.1,379.9 L604.9,379.7 L605.7,379.6 L606.5,377.6 L607.3,375.6 L608.1,375.9 L608.9,379.6 L609.7,381.7 L610.5,382.1 L611.3,380.5 L612.1,379.6 L612.9,380.6 L613.7,381.1 L614.5,379.3 L615.3,380.5 L616.1,380.5 L616.9,378.2 L617.2,378.8" fill="none" stroke="#e26261" stroke-width="2" stroke-linejoin="round" shape-rendering="crispEdges"/>
</svg>
</body></html>
